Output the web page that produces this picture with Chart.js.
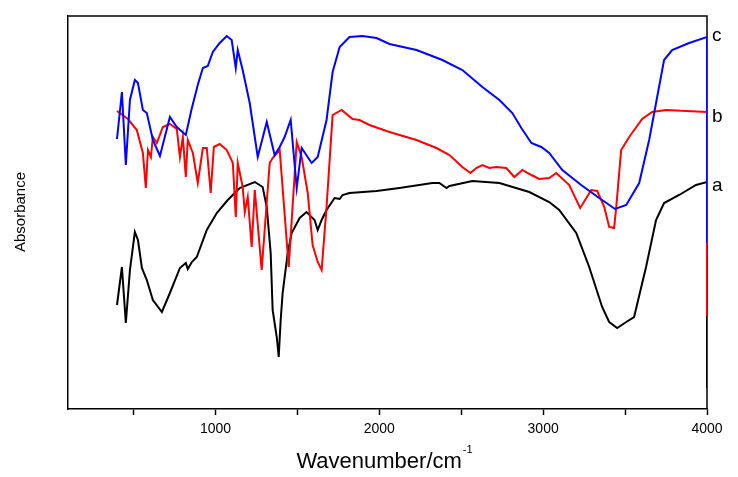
<!DOCTYPE html>
<html>
<head>
<meta charset="utf-8">
<script src="https://cdn.jsdelivr.net/npm/chart.js@4.4.1/dist/chart.umd.min.js"></script>
<style>
    html, body { margin: 0; padding: 0; background: #fff; }
    #wrap { width: 738px; height: 477px; position: relative; }
</style>
</head>
<body>
<div id="wrap"><canvas id="irChart"></canvas></div>
<script>
// Espectros FTIR: a (negro), b (rojo), c (azul)
const waveA = [399, 429, 453, 478, 508, 527, 551, 581, 618, 673, 722, 783, 819, 831, 856, 886, 947, 1008, 1075, 1148,
    1240, 1288, 1313, 1337, 1349, 1374, 1386, 1398, 1410, 1441, 1465, 1514, 1556, 1605, 1624, 1648, 1678, 1727, 1758, 1776,
    1818, 1983, 2123, 2324, 2367, 2410, 2428, 2568, 2733, 2915, 3037, 3098, 3202, 3281, 3360, 3403, 3452, 3507, 3555, 3628,
    3689, 3738, 3830, 3933, 4000, 4000];
const absA = [104, 142, 86, 139, 177, 169, 141, 129, 109, 97, 116, 141, 146, 140, 147, 152, 179, 196, 209, 221,
    227, 222, 202, 156, 99, 72, 52, 89, 116, 156, 176, 191, 197, 189, 179, 189, 199, 211, 210, 214,
    216, 218, 221, 226, 226, 221, 223, 228, 226, 217, 207, 199, 176, 142, 102, 87, 81, 87, 92, 142,
    189, 206, 214, 224, 227, 21];

const waveB = [399, 466, 520, 557, 575, 588, 606, 618, 642, 679, 722, 764, 783, 801, 819, 831, 862, 892, 923, 947,
    971, 990, 1026, 1069, 1106, 1124, 1136, 1166, 1179, 1197, 1221, 1240, 1282, 1331, 1349, 1392, 1447, 1496, 1526, 1563,
    1593, 1624, 1648, 1678, 1715, 1770, 1837, 1879, 1940, 2062, 2227, 2349, 2428, 2507, 2556, 2592, 2629, 2672, 2714, 2775,
    2824, 2873, 2928, 2976, 3037, 3080, 3159, 3226, 3293, 3330, 3373, 3403, 3433, 3446, 3476, 3525, 3604, 3665, 3750, 4000,
    4000];
const absB = [298, 290, 279, 256, 221, 259, 252, 272, 266, 282, 285, 280, 252, 272, 232, 269, 256, 226, 261, 261,
    216, 262, 265, 259, 246, 192, 246, 222, 197, 212, 162, 219, 139, 246, 251, 259, 142, 267, 252, 216,
    164, 147, 139, 202, 294, 299, 290, 289, 284, 277, 269, 261, 254, 242, 236, 241, 244, 241, 242, 241,
    232, 239, 234, 230, 231, 236, 224, 201, 219, 218, 202, 182, 181, 202, 259, 272, 290, 297, 299, 297,
    93];

const waveC = [399, 429, 453, 478, 508, 527, 557, 581, 618, 661, 722, 764, 819, 856, 892, 923, 953, 984, 1026, 1069,
    1099, 1124, 1136, 1166, 1209, 1258, 1313, 1361, 1392, 1422, 1459, 1496, 1526, 1587, 1624, 1678, 1715, 1758, 1818, 1898,
    1983, 2062, 2227, 2385, 2507, 2629, 2733, 2812, 2867, 2928, 2958, 2989, 3037, 3117, 3232, 3342, 3439, 3507, 3586, 3647,
    3689, 3738, 3787, 3891, 4000, 4000];
const absC = [270, 317, 244, 309, 329, 326, 299, 296, 269, 253, 292, 282, 274, 301, 324, 341, 343, 357, 366, 373,
    369, 341, 359, 339, 306, 252, 287, 254, 262, 272, 289, 221, 261, 246, 252, 289, 337, 362, 372, 373,
    371, 365, 359, 349, 339, 322, 309, 296, 281, 266, 264, 262, 256, 239, 224, 211, 200, 204, 226, 269,
    306, 349, 359, 366, 372, 166];

const curveLabels = ['c', 'b', 'a'];
const xTickMarks = [500, 1000, 1500, 2000, 2500, 3000, 3500, 4000];
const xTickLabels = [1000, 2000, 3000, 4000];

function toPoints(xs, ys) {
    return xs.map((x, i) => ({ x: x, y: ys[i] }));
}

// marco superior y derecho (debajo de las curvas)
const framePlugin = {
    id: 'frame',
    beforeDatasetsDraw(chart) {
        const { ctx, chartArea: a } = chart;
        ctx.save();
        ctx.strokeStyle = '#000';
        ctx.lineWidth = 1.5;
        ctx.beginPath();
        ctx.moveTo(a.left, a.top);
        ctx.lineTo(a.right, a.top);
        ctx.lineTo(a.right, a.bottom);
        ctx.stroke();
        ctx.restore();
    }
};

// textos: etiquetas a/b/c, titulo X con superindice, titulo Y
const textPlugin = {
    id: 'texts',
    afterDraw(chart) {
        const { ctx, chartArea: a } = chart;
        const yScale = chart.scales.y;
        ctx.save();
        ctx.fillStyle = '#000';

        // etiquetas al final de cada curva
        const offsets = [4, 10, 9];
        ctx.font = '19px Arial, "Liberation Sans", sans-serif';
        ctx.textAlign = 'left';
        ctx.textBaseline = 'alphabetic';
        chart.data.datasets.forEach((ds, i) => {
            const last = ds.data[ds.data.length - 2];
            ctx.fillText(curveLabels[i], a.right + 5, yScale.getPixelForValue(last.y) + offsets[i]);
        });

        // titulo eje X
        const main = 'Wavenumber/cm';
        const sup = '-1';
        ctx.font = '22px Arial, "Liberation Sans", sans-serif';
        const w1 = ctx.measureText(main).width;
        ctx.font = '11px Arial, "Liberation Sans", sans-serif';
        const w2 = ctx.measureText(sup).width;
        const x0 = 384 - (w1 + w2) / 2;
        ctx.font = '22px Arial, "Liberation Sans", sans-serif';
        ctx.fillText(main, x0, 468);
        ctx.font = '11px Arial, "Liberation Sans", sans-serif';
        ctx.fillText(sup, x0 + w1 + 1, 453);

        // titulo eje Y
        ctx.translate(25, 212);
        ctx.rotate(-Math.PI / 2);
        ctx.textAlign = 'center';
        ctx.font = '15px Arial, "Liberation Sans", sans-serif';
        ctx.fillText('Absorbance', 0, 0);
        ctx.restore();
    }
};

new Chart(document.getElementById('irChart').getContext('2d'), {
    type: 'line',
    data: {
        datasets: [
            { label: 'c', data: toPoints(waveC, absC), borderColor: '#0000ff' },
            { label: 'b', data: toPoints(waveB, absB), borderColor: '#ff0000' },
            { label: 'a', data: toPoints(waveA, absA), borderColor: '#000000' }
        ]
    },
    options: {
        responsive: true,
        maintainAspectRatio: false,
        animation: false,
        layout: { padding: { left: 0, top: 16, right: 31, bottom: 0 } },
        elements: {
            point: { radius: 0 },
            line: { borderWidth: 2, tension: 0 }
        },
        plugins: {
            legend: { display: false },
            tooltip: { enabled: false }
        },
        scales: {
            x: {
                type: 'linear',
                min: 100,
                max: 4000,
                afterBuildTicks: s => { s.ticks = xTickMarks.map(v => ({ value: v })); },
                afterFit: s => { s.height = 68; },
                ticks: {
                    autoSkip: false,
                    maxRotation: 0,
                    padding: 6,
                    color: '#000',
                    font: { family: 'Arial, "Liberation Sans", sans-serif', size: 14 },
                    callback: v => xTickLabels.includes(v) ? String(v) : ''
                },
                grid: { display: true, drawOnChartArea: false, drawTicks: true, tickLength: 6, tickColor: '#000', tickWidth: 1.5 },
                border: { display: true, color: '#000', width: 1.5 }
            },
            y: {
                min: 0,
                max: 393,
                afterFit: s => { s.width = 68; },
                ticks: { display: false },
                grid: { display: false, drawTicks: false },
                border: { display: true, color: '#000', width: 1.5 }
            }
        }
    },
    plugins: [framePlugin, textPlugin]
});
</script>
</body>
</html>
